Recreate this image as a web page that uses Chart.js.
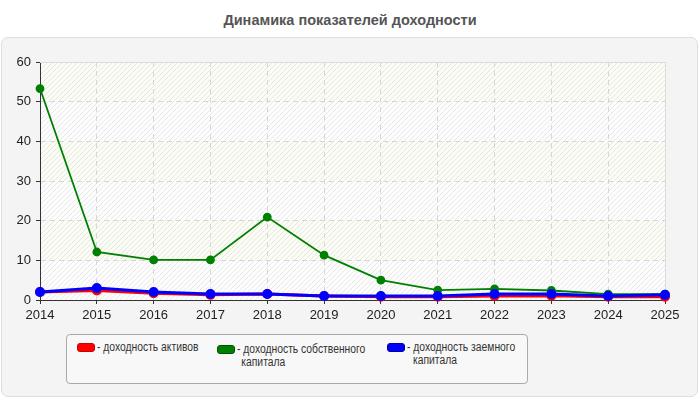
<!DOCTYPE html>
<html>
<head>
<meta charset="utf-8">
<script src="https://cdn.jsdelivr.net/npm/chart.js@4"></script>
<style>
  html, body { margin: 0; padding: 0; background: #fff; }
  body { width: 700px; height: 400px; position: relative; overflow: hidden; font-family: "Liberation Sans", Arial, sans-serif; }
  #title { position: absolute; left: 0; top: 12px; width: 700px; text-align: center; font-weight: bold; font-size: 14.5px; color: #555; }
  #panel { position: absolute; left: 1px; top: 37px; width: 695px; height: 358px; background: #f4f4f4; border: 1px solid #dedede; border-radius: 7px; }
  #chartWrap { position: absolute; left: 0; top: 0; width: 700px; height: 400px; }
  #legend { position: absolute; left: 66px; top: 334px; width: 460px; height: 48px; background: #f8f8f8; border: 1px solid #aaa; border-radius: 4px; }
  .item { position: absolute; font-size: 12px; color: #333; line-height: 12.5px; }
  .sw { position: absolute; width: 16px; height: 7px; border-radius: 3px; }
  .txt { position: absolute; white-space: nowrap; transform: scaleX(0.86); transform-origin: 0 0; }
</style>
</head>
<body>
<div id="title">Динамика показателей доходности</div>
<div id="panel"></div>
<div id="legend"></div>
<div id="chartWrap"><canvas id="c" width="700" height="400"></canvas></div>
<script>
const years = ["2014","2015","2016","2017","2018","2019","2020","2021","2022","2023","2024","2025"];
const seriesNames = ["- доходность активов", "- доходность собственного\nкапитала", "- доходность заемного\nкапитала"];
const seriesColors = ["#ff0000", "#008000", "#0000ff"];
const assetsReturn = [2.0, 2.4, 1.7, 1.3, 1.5, 1.0, 0.8, 0.8, 1.0, 1.1, 0.8, 0.8];
const equityReturn = [53.3, 12.1, 10.1, 10.1, 20.9, 11.3, 5.0, 2.5, 2.8, 2.4, 1.5, 1.5];
const debtReturn = [2.0, 3.0, 2.0, 1.5, 1.5, 1.0, 1.0, 1.0, 1.5, 1.5, 1.0, 1.3];
const yTicks = [0, 10, 20, 30, 40, 50, 60];

// HTML legend
const legendPos = [[10, 9], [150, 11], [320, 9]];
const legendEl = document.getElementById('legend');
seriesNames.forEach((name, i) => {
  const it = document.createElement('div');
  it.className = 'item';
  it.style.left = legendPos[i][0] + 'px';
  it.style.top = legendPos[i][1] + 'px';
  const sw = document.createElement('div');
  sw.className = 'sw';
  sw.style.background = seriesColors[i];
  sw.style.border = '1px solid ' + (i === 0 ? '#c00' : i === 1 ? '#050' : '#00a');
  sw.style.left = '0px'; sw.style.top = '-1px';
  const tx = document.createElement('div');
  tx.className = 'txt';
  tx.style.left = '20px'; tx.style.top = '-3px';
  const parts = name.split('\n');
  tx.innerHTML = parts[0] + (parts[1] ? '<br><span style="padding-left:' + (i===1?'5px':'7px') + '">' + parts[1] + '</span>' : '');
  it.appendChild(sw); it.appendChild(tx);
  legendEl.appendChild(it);
});

function makePattern(ctx) {
  const p = document.createElement('canvas');
  p.width = 5; p.height = 5;
  const pc = p.getContext('2d');
  pc.strokeStyle = 'rgba(200,200,200,0.4)';
  pc.lineWidth = 1;
  pc.beginPath();
  pc.moveTo(0, 5); pc.lineTo(5, 0);
  pc.moveTo(-1, 1); pc.lineTo(1, -1);
  pc.moveTo(4, 6); pc.lineTo(6, 4);
  pc.stroke();
  return ctx.createPattern(p, 'repeat');
}

const bgPlugin = {
  id: 'bgBands',
  beforeDraw(chart) {
    const { ctx, chartArea: a, scales } = chart;
    const y = scales.y;
    ctx.save();
    ctx.fillStyle = '#fdfdfd';
    ctx.fillRect(a.left, a.top, a.right - a.left, a.bottom - a.top);
    for (let i = 0; i < yTicks.length - 1; i++) {
      const y0 = y.getPixelForValue(yTicks[i]);
      const y1 = y.getPixelForValue(yTicks[i + 1]);
      if (i % 2 === 1) {
        ctx.fillStyle = '#fbfcf3';
        ctx.fillRect(a.left, y1, a.right - a.left, y0 - y1);
      }
    }
    ctx.fillStyle = makePattern(ctx);
    ctx.fillRect(a.left, a.top, a.right - a.left, a.bottom - a.top);
    ctx.restore();
  },
  beforeDatasetsDraw(chart) {
    const { ctx, chartArea: a } = chart;
    ctx.save();
    ctx.strokeStyle = '#dcdcdc';
    ctx.lineWidth = 1;
    ctx.beginPath();
    ctx.moveTo(a.left, a.top + 0.5); ctx.lineTo(a.right + 0.5, a.top + 0.5);
    ctx.lineTo(a.right + 0.5, a.bottom);
    ctx.stroke();
    ctx.restore();
  }
};

const font = { family: '"Liberation Sans", Arial, sans-serif', size: 13 };

new Chart(document.getElementById('c'), {
  type: 'line',
  data: {
    labels: years,
    datasets: [
      { label: seriesNames[0], data: assetsReturn, borderColor: seriesColors[0], backgroundColor: seriesColors[0], borderWidth: 3, pointRadius: 3.5, order: 2, clip: false },
      { label: seriesNames[1], data: equityReturn, borderColor: seriesColors[1], backgroundColor: seriesColors[1], borderWidth: 1.8, pointRadius: 3.5, order: 3, clip: false },
      { label: seriesNames[2], data: debtReturn, borderColor: seriesColors[2], backgroundColor: seriesColors[2], borderWidth: 3, pointRadius: 3.5, order: 1, clip: false }
    ]
  },
  options: {
    responsive: false,
    animation: false,
    devicePixelRatio: 1,
    layout: { padding: { top: 62, left: 0, right: 35, bottom: 70 } },
    plugins: { legend: { display: false }, tooltip: { enabled: false }, title: { display: false } },
    elements: { line: { tension: 0 }, point: { borderWidth: 0 } },
    scales: {
      x: {
        offset: false,
        afterFit(s) { s.height = 30; },
        grid: { color: '#d6d6d6', borderDash: [5, 4], tickLength: 4, tickColor: '#333', tickBorderDash: [], drawOnChartArea: true },
        border: { display: true, color: '#333', width: 1, dash: [5, 4] },
        ticks: { color: '#222', font, padding: 4, maxRotation: 0, autoSkip: false }
      },
      y: {
        min: 0, max: 60,
        afterFit(s) { s.width = 40; },
        afterBuildTicks(s) { s.ticks = yTicks.map(v => ({ value: v })); },
        grid: { color: '#d6d6d6', borderDash: [5, 4], tickLength: 4, tickColor: '#333', tickBorderDash: [] },
        border: { display: true, color: '#333', width: 1, dash: [5, 4] },
        ticks: { color: '#222', font, padding: 5 }
      }
    }
  },
  plugins: [bgPlugin]
});
</script>
</body>
</html>
